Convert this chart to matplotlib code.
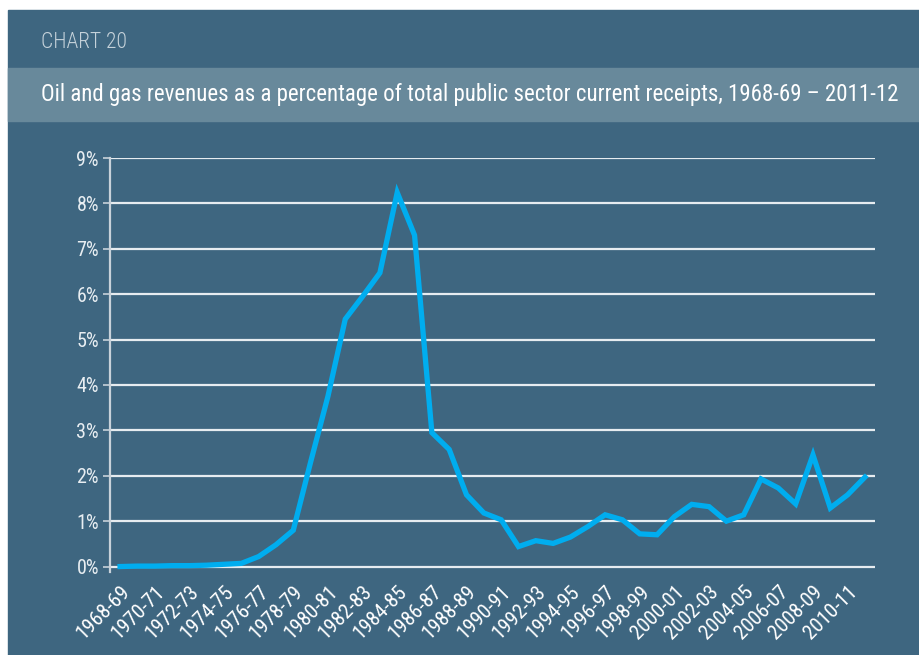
import matplotlib.pyplot as plt
from matplotlib.patches import Rectangle
from matplotlib.ticker import FuncFormatter

BG = "#3e6680"
BAND = "#68899b"
LINE = "#00adef"
FONT = ["Liberation Sans Narrow", "Roboto Condensed", "Roboto", "DejaVu Sans"]

years = [
    "1968-69", "1969-70", "1970-71", "1971-72", "1972-73", "1973-74", "1974-75",
    "1975-76", "1976-77", "1977-78", "1978-79", "1979-80", "1980-81", "1981-82",
    "1982-83", "1983-84", "1984-85", "1985-86", "1986-87", "1987-88", "1988-89",
    "1989-90", "1990-91", "1991-92", "1992-93", "1993-94", "1994-95", "1995-96",
    "1996-97", "1997-98", "1998-99", "1999-00", "2000-01", "2001-02", "2002-03",
    "2003-04", "2004-05", "2005-06", "2006-07", "2007-08", "2008-09", "2009-10",
    "2010-11", "2011-12",
]
# % of total public sector current receipts
oil_gas_pct = [
    0.00, 0.01, 0.01, 0.02, 0.02, 0.03, 0.05, 0.07, 0.22, 0.48,
    0.80, 2.30, 3.75, 5.45, 5.95, 6.47, 8.24, 7.30, 2.95, 2.58,
    1.58, 1.18, 1.03, 0.44, 0.57, 0.51, 0.65, 0.88, 1.14, 1.03,
    0.72, 0.70, 1.10, 1.37, 1.32, 1.00, 1.14, 1.93, 1.73, 1.38,
    2.46, 1.29, 1.58, 1.97,
]

plt.rcParams["font.family"] = FONT

fig = plt.figure(figsize=(9.19, 6.55), dpi=100)
fig.patch.set_facecolor("white")

# panel background and title band
fig.patches.append(Rectangle((8 / 919, 0), 1 - 8 / 919, 1 - 10 / 655,
                             transform=fig.transFigure, color=BG, zorder=0))
fig.patches.append(Rectangle((8 / 919, 1 - 121 / 655), 1 - 8 / 919, 53 / 655,
                             transform=fig.transFigure, color=BAND, zorder=0))
fig.text(41 / 919, 1 - 42 / 655, "CHART 20", color="#c5d2da", fontsize=15.5,
         fontweight="light", va="center", ha="left")
title = fig.text(41 / 919, 1 - 94 / 655,
                 "Oil and gas revenues as a percentage of total public sector current receipts, 1968-69 \u2013 2011-12",
                 color="white", fontsize=17, va="center", ha="left")
# shrink title until it fits the band like the original
renderer = fig.canvas.get_renderer()
while title.get_window_extent(renderer).width > 870 and title.get_fontsize() > 8:
    title.set_fontsize(title.get_fontsize() - 0.25)

ax = fig.add_axes([110 / 919, (655 - 572) / 655, 765 / 919, (572 - 158) / 655])
ax.set_zorder(2)
ax.set_facecolor(BG)

x = list(range(len(years)))
ax.plot(x, oil_gas_pct, color=LINE, lw=3.8, solid_joinstyle="miter", zorder=3)

ax.set_ylim(-0.12, 9)
ax.set_xlim(-0.58, len(years) - 1 + 0.58)
ax.set_yticks(range(0, 10))
ax.yaxis.set_major_formatter(FuncFormatter(lambda v, p: f"{int(v)}%"))
for v in range(0, 10):
    ax.axhline(v, color="#e6ecf0", lw=1.6, zorder=1)

ax.set_xticks(x[::2])
ax.set_xticklabels(years[::2], rotation=45, ha="right", va="top",
                   rotation_mode="anchor")
ax.tick_params(axis="x", length=0, pad=7, labelsize=15, colors="white")
ax.tick_params(axis="y", length=5, width=1.2, color="#c8d2da", pad=3,
               labelsize=14.5, labelcolor="#e8eef2")

for side in ["top", "right", "bottom"]:
    ax.spines[side].set_visible(False)
ax.spines["left"].set_color("#c8d2da")
ax.spines["left"].set_linewidth(1.6)

plt.savefig("out.png", dpi=100, facecolor=fig.get_facecolor())
